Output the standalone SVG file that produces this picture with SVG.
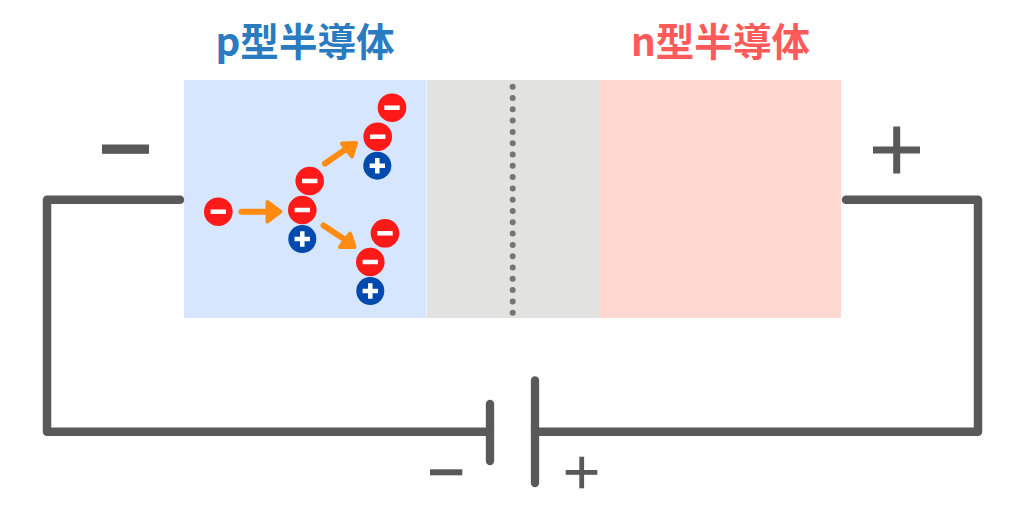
<svg xmlns="http://www.w3.org/2000/svg" width="1024" height="518" viewBox="0 0 1024 518">
<style>
.wire{fill:none;stroke:#595959;stroke-width:8.500;stroke-linecap:round;stroke-linejoin:round}
.plate{fill:none;stroke:#595959;stroke-width:8.300;stroke-linecap:round}
.sign{fill:#595959}
.arrow{fill:none;stroke:#ff8c10;stroke-width:6;stroke-linecap:round}
.head{fill:#ff8c10;stroke:#ff8c10;stroke-width:4;stroke-linejoin:round}
.title{font-family:"Noto Sans CJK JP","Noto Sans",sans-serif;font-weight:700;font-size:38.600px}
.e{fill:#ff1a1a}.h{fill:#0049ad}
.m{stroke:#fff;stroke-width:4.500;fill:none}
</style>
<defs>
<g id="electron"><circle class="e" r="14.3"/><path class="m" d="M-7.700,0H7.700"/></g>
<g id="hole"><circle class="h" r="14"/><path class="m" d="M-7.700,0H7.700M0,-7.700V7.700"/></g>
</defs>
<g id="p-region"><rect x="184" y="80" width="242.500" height="238" fill="#d6e6fe"/></g>
<g id="depletion-region"><rect x="427" y="80" width="173" height="238" fill="#e2e2e0"/>
<path d="M512.700,86.700V313" fill="none" stroke="#757575" stroke-width="6" stroke-linecap="round" stroke-dasharray="0 11.300"/></g>
<g id="n-region"><rect x="600" y="80" width="241" height="238" fill="#ffd8d2"/></g>
<g id="p-label"><text class="title" x="215.500" y="56" fill="#2a7bc0">p型半導体</text></g>
<g id="n-label"><text class="title" x="631" y="56" fill="#ff5a5a">n型半導体</text></g>
<g id="connectors">
<path class="wire" d="M180,199.700H47V431.700H490"/>
<path class="wire" d="M846,199.700H978V431.700H535"/>
<path class="arrow" d="M241.500,211.700H267"/><path class="head" d="M267.500,202L280.500,211.700L267.500,221.500Z"/>
<path class="arrow" d="M325,163.500L349,147"/><path class="head" d="M342,143.500L356,143L352,156.500Z"/>
<path class="arrow" d="M323.500,225.500L347,241"/><path class="head" d="M350,233.500L354.500,247L340,247Z"/>
</g>
<g id="battery"><path class="plate" d="M490,404V461"/><path class="plate" d="M535,380.500V483"/>
<rect class="sign" x="430" y="469.300" width="32.300" height="6"/>
<rect class="sign" x="565.700" y="470" width="31.600" height="4.800"/><rect class="sign" x="579.300" y="456.700" width="4.800" height="31.600"/></g>
<g id="minus-terminal"><rect class="sign" x="102" y="144.500" width="47" height="9.300"/></g>
<g id="plus-terminal"><rect class="sign" x="873" y="146.500" width="47" height="7"/><rect class="sign" x="893.200" y="126.500" width="7" height="47"/></g>
<g id="carriers">
<use href="#electron" x="218.300" y="211.700"/>
<use href="#electron" x="302.300" y="210"/><use href="#hole" x="302.300" y="239"/>
<use href="#electron" x="309.700" y="181"/>
<use href="#electron" x="377.700" y="136.700"/><use href="#hole" x="377.300" y="165.700"/>
<use href="#electron" x="392" y="107.700"/>
<use href="#electron" x="385" y="233.300"/>
<use href="#electron" x="370.300" y="262"/><use href="#hole" x="370.300" y="291"/>
</g>
</svg>
